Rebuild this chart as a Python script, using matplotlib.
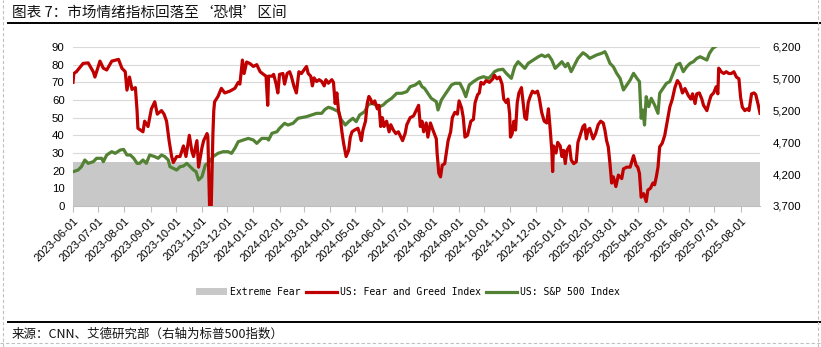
import matplotlib
matplotlib.use("Agg")
import matplotlib.pyplot as plt
import matplotlib.dates as mdates
from matplotlib.lines import Line2D
from matplotlib.patches import Patch
import pandas as pd

# ---------------- data ----------------
title_text = "图表 7：市场情绪指标回落至‘恐惧’区间"
source_text = "来源：CNN、艾德研究部（右轴为标普500指数）"
legend_labels = ["Extreme Fear", "US: Fear and Greed Index", "US: S&P 500 Index"]

extreme_fear_level = 25

left_ticks = [0, 10, 20, 30, 40, 50, 60, 70, 80, 90]
right_ticks = [3700, 4200, 4700, 5200, 5700, 6200]
right_tick_labels = ["3,700", "4,200", "4,700", "5,200", "5,700", "6,200"]

tick_labels = [
    "2023-06-01", "2023-07-01", "2023-08-01", "2023-09-01", "2023-10-01", "2023-11-01",
    "2023-12-01", "2024-01-01", "2024-02-01", "2024-03-01", "2024-04-01", "2024-05-01",
    "2024-06-01", "2024-07-01", "2024-08-01", "2024-09-01", "2024-10-01", "2024-11-01",
    "2024-12-01", "2025-01-01", "2025-02-01", "2025-03-01", "2025-04-01", "2025-05-01",
    "2025-06-01", "2025-07-01", "2025-08-01",
]

fg_dates = [
    "2023-06-01", "2023-06-02", "2023-06-05", "2023-06-13", "2023-06-19", "2023-06-25", "2023-06-27",
    "2023-07-03", "2023-07-07", "2023-07-11", "2023-07-17", "2023-07-25", "2023-07-29",
    "2023-08-02", "2023-08-04", "2023-08-07", "2023-08-10", "2023-08-14", "2023-08-16", "2023-08-17", "2023-08-23", "2023-08-25", "2023-08-29",
    "2023-09-02", "2023-09-06", "2023-09-09", "2023-09-14", "2023-09-17", "2023-09-20", "2023-09-23", "2023-09-26", "2023-09-28",
    "2023-10-02", "2023-10-06", "2023-10-10", "2023-10-13", "2023-10-17", "2023-10-20", "2023-10-22", "2023-10-26", "2023-10-28",
    "2023-11-01", "2023-11-03", "2023-11-07", "2023-11-08", "2023-11-10", "2023-11-12", "2023-11-14", "2023-11-15", "2023-11-16", "2023-11-20", "2023-11-24", "2023-11-28",
    "2023-12-04", "2023-12-10", "2023-12-14", "2023-12-16", "2023-12-19", "2023-12-21", "2023-12-24", "2023-12-28",
    "2024-01-01", "2024-01-05", "2024-01-09", "2024-01-13", "2024-01-16", "2024-01-18", "2024-01-19", "2024-01-23", "2024-01-25", "2024-01-28", "2024-01-30",
    "2024-02-01", "2024-02-05", "2024-02-07", "2024-02-10", "2024-02-13", "2024-02-15", "2024-02-18", "2024-02-21", "2024-02-24", "2024-02-27",
    "2024-03-01", "2024-03-04", "2024-03-06", "2024-03-09", "2024-03-11", "2024-03-13", "2024-03-16", "2024-03-19", "2024-03-22", "2024-03-25", "2024-03-27", "2024-03-30",
    "2024-04-03", "2024-04-05", "2024-04-07", "2024-04-09", "2024-04-11", "2024-04-13", "2024-04-15", "2024-04-17", "2024-04-20", "2024-04-23", "2024-04-25", "2024-04-27", "2024-04-30",
    "2024-05-04", "2024-05-06", "2024-05-08", "2024-05-10", "2024-05-13", "2024-05-15", "2024-05-17", "2024-05-19", "2024-05-21", "2024-05-24", "2024-05-27", "2024-05-29", "2024-05-31",
    "2024-06-02", "2024-06-04", "2024-06-07", "2024-06-10", "2024-06-12", "2024-06-15", "2024-06-18", "2024-06-21", "2024-06-24", "2024-06-26", "2024-06-29",
    "2024-07-01", "2024-07-05", "2024-07-09", "2024-07-12", "2024-07-15", "2024-07-17", "2024-07-19", "2024-07-21", "2024-07-24", "2024-07-26", "2024-07-29",
    "2024-08-01", "2024-08-05", "2024-08-06", "2024-08-08", "2024-08-10", "2024-08-12", "2024-08-15", "2024-08-17", "2024-08-19", "2024-08-22", "2024-08-24", "2024-08-27", "2024-08-30",
    "2024-09-01", "2024-09-04", "2024-09-06", "2024-09-08", "2024-09-11", "2024-09-15", "2024-09-18", "2024-09-20", "2024-09-23", "2024-09-25", "2024-09-27", "2024-09-30",
    "2024-10-03", "2024-10-07", "2024-10-11", "2024-10-13", "2024-10-16", "2024-10-19", "2024-10-22", "2024-10-24", "2024-10-27", "2024-10-29", "2024-10-31",
    "2024-11-01", "2024-11-03", "2024-11-05", "2024-11-07", "2024-11-09", "2024-11-11", "2024-11-14", "2024-11-16", "2024-11-18", "2024-11-20", "2024-11-22", "2024-11-24", "2024-11-27", "2024-11-30",
    "2024-12-03", "2024-12-05", "2024-12-08", "2024-12-11", "2024-12-14", "2024-12-16", "2024-12-18", "2024-12-20", "2024-12-21", "2024-12-22", "2024-12-25", "2024-12-27", "2024-12-30",
    "2025-01-01", "2025-01-03", "2025-01-05", "2025-01-07", "2025-01-10", "2025-01-12", "2025-01-15", "2025-01-18", "2025-01-20", "2025-01-22", "2025-01-26", "2025-01-28", "2025-01-30",
    "2025-02-01", "2025-02-03", "2025-02-07", "2025-02-10", "2025-02-13", "2025-02-16", "2025-02-19", "2025-02-21", "2025-02-23", "2025-02-25", "2025-02-27",
    "2025-03-01", "2025-03-03", "2025-03-06", "2025-03-09", "2025-03-13", "2025-03-15", "2025-03-19", "2025-03-23", "2025-03-27", "2025-03-30",
    "2025-04-01", "2025-04-03", "2025-04-05", "2025-04-08", "2025-04-11", "2025-04-13", "2025-04-16", "2025-04-19", "2025-04-21", "2025-04-23", "2025-04-25", "2025-04-27", "2025-04-30",
    "2025-05-03", "2025-05-06", "2025-05-09", "2025-05-12", "2025-05-15", "2025-05-18", "2025-05-21", "2025-05-24", "2025-05-27", "2025-05-31",
    "2025-06-03", "2025-06-05", "2025-06-08", "2025-06-10", "2025-06-13", "2025-06-16", "2025-06-18", "2025-06-22", "2025-06-25", "2025-06-27", "2025-06-30",
    "2025-07-03", "2025-07-05", "2025-07-06", "2025-07-09", "2025-07-12", "2025-07-15", "2025-07-18", "2025-07-21", "2025-07-24", "2025-07-27", "2025-07-30",
    "2025-08-01", "2025-08-03", "2025-08-06", "2025-08-09", "2025-08-11", "2025-08-14", "2025-08-17", "2025-08-19", "2025-08-22", "2025-08-24",
]
fg_values = [
    70, 75, 76, 80.7, 81, 76, 73,
    82, 78, 77, 82, 83, 78,
    76, 65.6, 73, 66, 67, 54, 44, 42, 48, 45,
    55, 59, 52, 54, 52, 48, 37, 28, 24.6,
    28, 28, 34, 28, 40, 31, 28, 37, 22,
    33, 37, 41, 39, 0, 0, 41, 54, 59, 62, 66.6, 64,
    65, 66.6, 70, 69, 82.6, 75, 81.5, 80.6,
    79, 80, 76, 74.5, 73.5, 57, 73.5, 73.5, 74.5, 69, 64,
    74.5, 75, 69, 75, 76, 73.5, 68, 64, 76, 75,
    77, 79, 75, 73.5, 68, 72.5, 70.5, 71.5, 70.5, 68, 71.5, 69.5,
    71.5, 70, 58, 64, 54, 50, 42, 35.5, 28, 31.5, 39, 42, 43,
    44, 41, 37, 43, 48, 58, 62, 60.5, 58, 59.5, 55, 57, 45,
    50, 45, 48, 42, 46, 43, 41, 42, 39, 37, 41,
    46, 50, 51, 54, 57, 45, 48, 42, 47, 39, 47,
    43, 38, 29.5, 18.5, 16.5, 23, 24, 30.5, 37, 42, 50, 53, 52,
    59.5, 55.5, 50, 39, 40, 48, 49, 58.5, 63, 64, 70, 69,
    71, 70, 72, 74, 72, 73, 69, 60.5, 58.5, 60.5, 52,
    39, 41, 48, 43, 58.5, 64, 67, 58.5, 50, 49, 58.5, 61.5, 65, 64,
    65, 61.5, 53, 48, 47, 55, 44, 31.5, 19.5, 34, 30, 36, 34,
    28, 31.5, 24, 31.5, 34, 26, 24, 25, 36, 39, 45, 46, 38,
    43, 44, 38, 41, 46, 48, 47, 43, 37, 33.5, 24,
    13, 16.5, 11, 17.5, 15.5, 21, 22, 22, 28.5, 23,
    22, 18.5, 5, 7, 2.5, 9, 10, 13, 12, 16.5, 22, 33.5, 35.5,
    40, 48, 56, 60.5, 67, 71, 69, 64, 66.5, 62.5,
    60.5, 63.5, 58, 63.5, 64, 60.5, 57, 54, 59.5, 62.5, 64,
    67.5, 63.5, 78, 76, 75, 76, 75, 75, 76, 73, 72,
    61.5, 56, 54, 55, 54, 63.5, 64, 63, 57, 52.5,
]

spx_dates = [
    "2023-06-01", "2023-06-07", "2023-06-11", "2023-06-15", "2023-06-19", "2023-06-25", "2023-06-29",
    "2023-07-05", "2023-07-07", "2023-07-11", "2023-07-17", "2023-07-21", "2023-07-27", "2023-07-31",
    "2023-08-04", "2023-08-08", "2023-08-12", "2023-08-16", "2023-08-19", "2023-08-23", "2023-08-27", "2023-08-31",
    "2023-09-06", "2023-09-10", "2023-09-14", "2023-09-18", "2023-09-22", "2023-09-24", "2023-09-28",
    "2023-10-02", "2023-10-06", "2023-10-10", "2023-10-14", "2023-10-18", "2023-10-22", "2023-10-25", "2023-10-28",
    "2023-11-01", "2023-11-05", "2023-11-08", "2023-11-10", "2023-11-14", "2023-11-20", "2023-11-26",
    "2023-12-02", "2023-12-06", "2023-12-10", "2023-12-14", "2023-12-20", "2023-12-26",
    "2024-01-01", "2024-01-05", "2024-01-11", "2024-01-17", "2024-01-19", "2024-01-23", "2024-01-29",
    "2024-02-01", "2024-02-07", "2024-02-11", "2024-02-17", "2024-02-23", "2024-02-29",
    "2024-03-04", "2024-03-10", "2024-03-16", "2024-03-22", "2024-03-26", "2024-03-30",
    "2024-04-03", "2024-04-07", "2024-04-11", "2024-04-13", "2024-04-19", "2024-04-23", "2024-04-28",
    "2024-05-02", "2024-05-06", "2024-05-12", "2024-05-16", "2024-05-20", "2024-05-26", "2024-05-30",
    "2024-06-03", "2024-06-07", "2024-06-13", "2024-06-19", "2024-06-25",
    "2024-07-01", "2024-07-05", "2024-07-11", "2024-07-16", "2024-07-19", "2024-07-22", "2024-07-26", "2024-07-30",
    "2024-08-05", "2024-08-07", "2024-08-11", "2024-08-15", "2024-08-19", "2024-08-23", "2024-08-27",
    "2024-09-02", "2024-09-06", "2024-09-09", "2024-09-13", "2024-09-18", "2024-09-24", "2024-09-30",
    "2024-10-06", "2024-10-10", "2024-10-13", "2024-10-17", "2024-10-23", "2024-10-27", "2024-10-31",
    "2024-11-02", "2024-11-06", "2024-11-10", "2024-11-14", "2024-11-18", "2024-11-22", "2024-11-28",
    "2024-12-04", "2024-12-08", "2024-12-12", "2024-12-16", "2024-12-20", "2024-12-24", "2024-12-28",
    "2025-01-01", "2025-01-05", "2025-01-08", "2025-01-12", "2025-01-16", "2025-01-20", "2025-01-26", "2025-01-30",
    "2025-02-03", "2025-02-07", "2025-02-11", "2025-02-17", "2025-02-21", "2025-02-23", "2025-02-27",
    "2025-03-03", "2025-03-07", "2025-03-11", "2025-03-15", "2025-03-19", "2025-03-23", "2025-03-27", "2025-03-31",
    "2025-04-03", "2025-04-05", "2025-04-07", "2025-04-09", "2025-04-11", "2025-04-14", "2025-04-17", "2025-04-21", "2025-04-25", "2025-04-27",
    "2025-05-01", "2025-05-05", "2025-05-09", "2025-05-13", "2025-05-17", "2025-05-21", "2025-05-25", "2025-05-29",
    "2025-06-02", "2025-06-06", "2025-06-10", "2025-06-14", "2025-06-18", "2025-06-22", "2025-06-25", "2025-06-29",
    "2025-07-03", "2025-07-07", "2025-07-19", "2025-07-31", "2025-08-12", "2025-08-24",
]
spx_values = [
    4239, 4266, 4318, 4423, 4371, 4396, 4450,
    4450, 4396, 4502, 4554, 4528, 4580, 4590,
    4502, 4502, 4450, 4371, 4371, 4423, 4371, 4502,
    4476, 4450, 4502, 4476, 4423, 4318, 4292,
    4266, 4318, 4328, 4371, 4318, 4266, 4239, 4109,
    4161, 4344, 4371, 4396, 4475, 4528, 4554,
    4554, 4528, 4607, 4711, 4737, 4763,
    4737, 4685, 4763, 4763, 4737, 4843, 4868,
    4921, 5000, 4973, 5000, 5079, 5094,
    5105, 5131, 5157, 5157, 5220, 5252,
    5236, 5210, 5183, 5079, 4973, 5026, 5079,
    5026, 5131, 5183, 5288, 5314, 5288, 5262,
    5288, 5340, 5393, 5472, 5472,
    5498, 5576, 5603, 5654, 5576, 5550, 5472, 5393,
    5340, 5210, 5367, 5445, 5524, 5603, 5629,
    5629, 5524, 5419, 5603, 5655, 5707, 5733,
    5707, 5760, 5812, 5838, 5850, 5786, 5733,
    5707, 5890, 5969, 5917, 5864, 5943, 5995,
    6047, 6074, 6047, 6074, 5995, 5864, 5917,
    5969, 5890, 5943, 5812, 5917, 6021, 6110, 6074,
    6021, 6047, 6074, 6100, 6126, 6074, 5943,
    5890, 5786, 5707, 5524, 5603, 5681, 5786, 5707,
    5655, 5079, 5210, 4973, 5419, 5262, 5393, 5288, 5157, 5472,
    5550, 5629, 5655, 5786, 5917, 5943, 5812, 5890,
    5943, 5969, 6021, 6047, 6021, 5995, 6100, 6179,
    6215, 6260, 6300, 6340, 6380, 6440,
]

assert len(fg_dates) == len(fg_values)
assert len(spx_dates) == len(spx_values)

# ---------------- styles ----------------
RED = "#C00000"
GREEN = "#548235"
GRAY_FILL = "#C8C8C8"
GRID = "#D9D9D9"
TXT = "#000000"
CJK = ["Noto Sans CJK SC", "DejaVu Sans"]
TICKFONT = "Liberation Sans"

W, H = 821, 347
fig = plt.figure(figsize=(W / 100, H / 100), dpi=100)

L, R, T, B = 73, 760, 47, 206
ax = fig.add_axes([L / W, 1 - B / H, (R - L) / W, (B - T) / H])
ax2 = ax.twinx()
ax3 = ax.twinx()

fg_x = pd.to_datetime(fg_dates)
spx_x = pd.to_datetime(spx_dates)
xmin, xmax = fg_x.min(), fg_x.max()

# bottom axis: grid + extreme fear band
ax.set_xlim(xmin, xmax)
ax.set_ylim(left_ticks[0], left_ticks[-1])
ax.set_yticks(left_ticks)
ax.grid(axis="y", color=GRID, linewidth=0.8, zorder=0)
ax.set_axisbelow(True)
ax.fill_between([xmin, xmax], 0, extreme_fear_level, color=GRAY_FILL, linewidth=0, zorder=1)
for s in ["top", "right", "left"]:
    ax.spines[s].set_visible(False)
ax.spines["bottom"].set_color("#BFBFBF")
ax.spines["bottom"].set_linewidth(0.8)
ax.tick_params(axis="y", length=0, pad=6, labelsize=8.2, labelcolor=TXT)
for lbl in ax.get_yticklabels():
    lbl.set_fontfamily(TICKFONT)

tick_pos = pd.to_datetime(tick_labels)
ax.set_xticks(tick_pos)
ax.set_xticklabels(tick_labels, rotation=45, ha="right", va="top",
                   rotation_mode="anchor", fontsize=8, fontfamily=TICKFONT, color=TXT)
ax.tick_params(axis="x", length=4, width=0.8, color="#BFBFBF", pad=3)

# right axis: S&P 500
ax2.plot(spx_x, spx_values, color=GREEN, linewidth=2.3, solid_joinstyle="round")
ax2.set_ylim(right_ticks[0], right_ticks[-1])
ax2.set_yticks(right_ticks)
ax2.set_yticklabels(right_tick_labels, fontsize=8.2, fontfamily=TICKFONT, color=TXT)
ax2.tick_params(axis="y", length=0, pad=9)
for s in ax2.spines.values():
    s.set_visible(False)

# top axis: Fear & Greed on left scale
ax3.plot(fg_x, fg_values, color=RED, linewidth=2.3, solid_joinstyle="round")
ax3.set_ylim(left_ticks[0], left_ticks[-1])
ax3.set_yticks([])
for s in ax3.spines.values():
    s.set_visible(False)
ax3.set_xlim(xmin, xmax)

# legend
handles = [
    Patch(facecolor=GRAY_FILL, edgecolor="none"),
    Line2D([], [], color=RED, linewidth=2.3),
    Line2D([], [], color=GREEN, linewidth=2.3),
]
fig.legend(handles, legend_labels, loc="center", bbox_to_anchor=(408 / W, 1 - 292 / H),
           ncol=3, frameon=False, prop={"family": "DejaVu Sans Mono", "size": 7},
           handlelength=3.2, handleheight=0.7, handletextpad=0.35, columnspacing=0.5)

# title, rules, source
fig.text(12 / W, 1 - 13 / H, title_text, fontsize=10.5, family=CJK, color="#111111",
         ha="left", va="center")
fig.add_artist(Line2D([8 / W, 1.0], [1 - 22.5 / H] * 2, color="black", linewidth=1.4,
                      transform=fig.transFigure))
fig.add_artist(Line2D([8 / W, 1.0], [1 - 321.5 / H] * 2, color="black", linewidth=1.4,
                      transform=fig.transFigure))
fig.text(12 / W, 1 - 334 / H, source_text, fontsize=9, family=CJK, color="#111111",
         ha="left", va="center")
for xs, ys in [([3 / W, 3 / W], [0, 1]), ([818 / W, 818 / W], [0, 1]),
               ([0, 1], [1 - 343 / H, 1 - 343 / H])]:
    fig.add_artist(Line2D(xs, ys, color="#C0C0C0", linewidth=0.8, linestyle=(0, (3, 2)),
                          transform=fig.transFigure))

fig.savefig("out.png", dpi=100)
